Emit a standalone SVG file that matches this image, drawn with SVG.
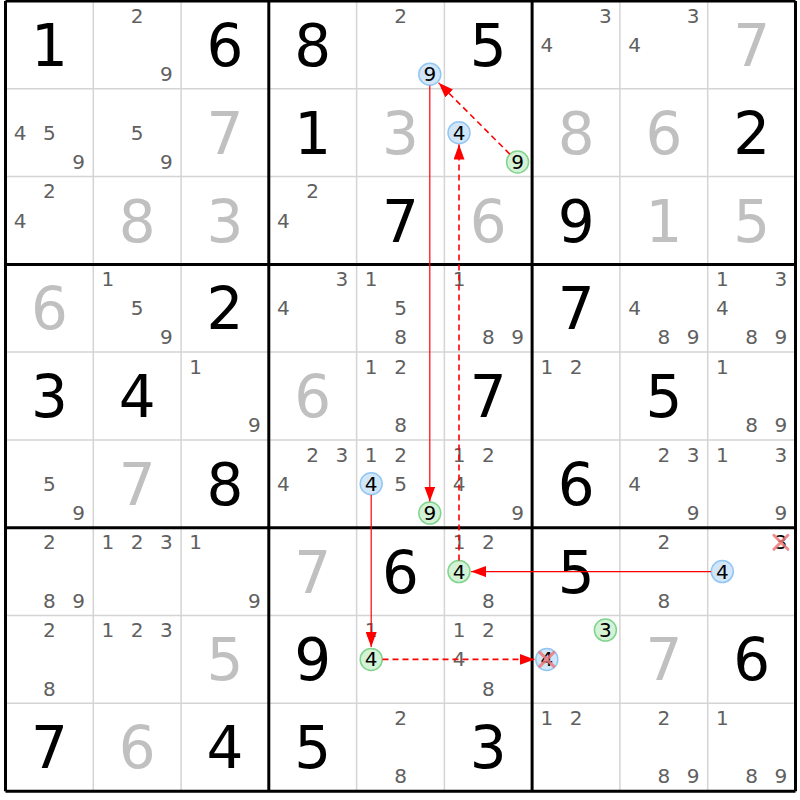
<svg xmlns="http://www.w3.org/2000/svg" width="800" height="800" viewBox="0 0 800 800">
<style>
text{font-family:"DejaVu Sans","Liberation Sans",sans-serif;text-anchor:middle}
.g{font-size:58px;fill:#000}
.s{font-size:58px;fill:#c0c0c0}
.c{font-size:20px;fill:#606060}
.k{font-size:20px;fill:#000}
.thin{stroke:#d4d4d4;stroke-width:1.5}
.thick{stroke:#000;stroke-width:3}
.bc{fill:#d2e6fa;stroke:#92c6f2;stroke-width:1.5}
.gc{fill:#d4f2d6;stroke:#80d48e;stroke-width:1.5}
.sol{stroke:#ff0000;stroke-width:1.2;fill:none}
.dsh{stroke:#ff0000;stroke-width:1.6;stroke-dasharray:6,4;fill:none}
.x{stroke:#f07878;stroke-width:3;stroke-linecap:round;opacity:0.85}
</style>
<defs>
<marker id="ah" markerUnits="userSpaceOnUse" markerWidth="15" markerHeight="11" refX="15" refY="5.5" orient="auto"><path d="M0,0 L15,5.5 L0,11 z" fill="#ff0000"/></marker>
</defs>
<rect width="800" height="800" fill="#fff"/>
<g id="grid">
<path class="thin" d="M93.3,1V791.2M181.1,1V791.2M356.6,1V791.2M444.4,1V791.2M619.9,1V791.2M707.7,1V791.2M5.5,88.8H795.5M5.5,176.6H795.5M5.5,352.1H795.5M5.5,439.9H795.5M5.5,615.5H795.5M5.5,703.3H795.5"/>
<path class="thick" d="M5.5,1V791.2M268.8,1V791.2M532.1,1V791.2M795.5,1V791.2M5.5,1H795.5M5.5,264.4H795.5M5.5,527.7H795.5M5.5,791.2H795.5"/>
</g>
<g id="cells">
<g id="r1c1" transform="translate(49.4,44.9)"><text class="g" y="21">1</text></g>
<g id="r1c2" transform="translate(137.2,44.9)"><text class="c" x="0" y="-22.3">2</text><text class="c" x="29.3" y="36.3">9</text></g>
<g id="r1c3" transform="translate(225,44.9)"><text class="g" y="21">6</text></g>
<g id="r1c4" transform="translate(312.7,44.9)"><text class="g" y="21">8</text></g>
<g id="r1c5" transform="translate(400.5,44.9)"><text class="c" x="0" y="-22.3">2</text><circle class="bc" cx="29.3" cy="29.3" r="11"/><text class="k" x="29.3" y="36.3">9</text></g>
<g id="r1c6" transform="translate(488.3,44.9)"><text class="g" y="21">5</text></g>
<g id="r1c7" transform="translate(576.1,44.9)"><text class="c" x="29.3" y="-22.3">3</text><text class="c" x="-29.3" y="7">4</text></g>
<g id="r1c8" transform="translate(663.9,44.9)"><text class="c" x="29.3" y="-22.3">3</text><text class="c" x="-29.3" y="7">4</text></g>
<g id="r1c9" transform="translate(751.6,44.9)"><text class="s" y="21">7</text></g>

<g id="r2c1" transform="translate(49.4,132.7)"><text class="c" x="-29.3" y="7">4</text><text class="c" x="0" y="7">5</text><text class="c" x="29.3" y="36.3">9</text></g>
<g id="r2c2" transform="translate(137.2,132.7)"><text class="c" x="0" y="7">5</text><text class="c" x="29.3" y="36.3">9</text></g>
<g id="r2c3" transform="translate(225,132.7)"><text class="s" y="21">7</text></g>
<g id="r2c4" transform="translate(312.7,132.7)"><text class="g" y="21">1</text></g>
<g id="r2c5" transform="translate(400.5,132.7)"><text class="s" y="21">3</text></g>
<g id="r2c6" transform="translate(488.3,132.7)"><circle class="bc" cx="-29.3" cy="0" r="11"/><text class="k" x="-29.3" y="7">4</text><circle class="gc" cx="29.3" cy="29.3" r="11"/><text class="k" x="29.3" y="36.3">9</text></g>
<g id="r2c7" transform="translate(576.1,132.7)"><text class="s" y="21">8</text></g>
<g id="r2c8" transform="translate(663.9,132.7)"><text class="s" y="21">6</text></g>
<g id="r2c9" transform="translate(751.6,132.7)"><text class="g" y="21">2</text></g>

<g id="r3c1" transform="translate(49.4,220.5)"><text class="c" x="0" y="-22.3">2</text><text class="c" x="-29.3" y="7">4</text></g>
<g id="r3c2" transform="translate(137.2,220.5)"><text class="s" y="21">8</text></g>
<g id="r3c3" transform="translate(225,220.5)"><text class="s" y="21">3</text></g>
<g id="r3c4" transform="translate(312.7,220.5)"><text class="c" x="0" y="-22.3">2</text><text class="c" x="-29.3" y="7">4</text></g>
<g id="r3c5" transform="translate(400.5,220.5)"><text class="g" y="21">7</text></g>
<g id="r3c6" transform="translate(488.3,220.5)"><text class="s" y="21">6</text></g>
<g id="r3c7" transform="translate(576.1,220.5)"><text class="g" y="21">9</text></g>
<g id="r3c8" transform="translate(663.9,220.5)"><text class="s" y="21">1</text></g>
<g id="r3c9" transform="translate(751.6,220.5)"><text class="s" y="21">5</text></g>

<g id="r4c1" transform="translate(49.4,308.2)"><text class="s" y="21">6</text></g>
<g id="r4c2" transform="translate(137.2,308.2)"><text class="c" x="-29.3" y="-22.3">1</text><text class="c" x="0" y="7">5</text><text class="c" x="29.3" y="36.3">9</text></g>
<g id="r4c3" transform="translate(225,308.2)"><text class="g" y="21">2</text></g>
<g id="r4c4" transform="translate(312.7,308.2)"><text class="c" x="29.3" y="-22.3">3</text><text class="c" x="-29.3" y="7">4</text></g>
<g id="r4c5" transform="translate(400.5,308.2)"><text class="c" x="-29.3" y="-22.3">1</text><text class="c" x="0" y="7">5</text><text class="c" x="0" y="36.3">8</text></g>
<g id="r4c6" transform="translate(488.3,308.2)"><text class="c" x="-29.3" y="-22.3">1</text><text class="c" x="0" y="36.3">8</text><text class="c" x="29.3" y="36.3">9</text></g>
<g id="r4c7" transform="translate(576.1,308.2)"><text class="g" y="21">7</text></g>
<g id="r4c8" transform="translate(663.9,308.2)"><text class="c" x="-29.3" y="7">4</text><text class="c" x="0" y="36.3">8</text><text class="c" x="29.3" y="36.3">9</text></g>
<g id="r4c9" transform="translate(751.6,308.2)"><text class="c" x="-29.3" y="-22.3">1</text><text class="c" x="29.3" y="-22.3">3</text><text class="c" x="-29.3" y="7">4</text><text class="c" x="0" y="36.3">8</text><text class="c" x="29.3" y="36.3">9</text></g>

<g id="r5c1" transform="translate(49.4,396)"><text class="g" y="21">3</text></g>
<g id="r5c2" transform="translate(137.2,396)"><text class="g" y="21">4</text></g>
<g id="r5c3" transform="translate(225,396)"><text class="c" x="-29.3" y="-22.3">1</text><text class="c" x="29.3" y="36.3">9</text></g>
<g id="r5c4" transform="translate(312.7,396)"><text class="s" y="21">6</text></g>
<g id="r5c5" transform="translate(400.5,396)"><text class="c" x="-29.3" y="-22.3">1</text><text class="c" x="0" y="-22.3">2</text><text class="c" x="0" y="36.3">8</text></g>
<g id="r5c6" transform="translate(488.3,396)"><text class="g" y="21">7</text></g>
<g id="r5c7" transform="translate(576.1,396)"><text class="c" x="-29.3" y="-22.3">1</text><text class="c" x="0" y="-22.3">2</text></g>
<g id="r5c8" transform="translate(663.9,396)"><text class="g" y="21">5</text></g>
<g id="r5c9" transform="translate(751.6,396)"><text class="c" x="-29.3" y="-22.3">1</text><text class="c" x="0" y="36.3">8</text><text class="c" x="29.3" y="36.3">9</text></g>

<g id="r6c1" transform="translate(49.4,483.8)"><text class="c" x="0" y="7">5</text><text class="c" x="29.3" y="36.3">9</text></g>
<g id="r6c2" transform="translate(137.2,483.8)"><text class="s" y="21">7</text></g>
<g id="r6c3" transform="translate(225,483.8)"><text class="g" y="21">8</text></g>
<g id="r6c4" transform="translate(312.7,483.8)"><text class="c" x="0" y="-22.3">2</text><text class="c" x="29.3" y="-22.3">3</text><text class="c" x="-29.3" y="7">4</text></g>
<g id="r6c5" transform="translate(400.5,483.8)"><text class="c" x="-29.3" y="-22.3">1</text><text class="c" x="0" y="-22.3">2</text><circle class="bc" cx="-29.3" cy="0" r="11"/><text class="k" x="-29.3" y="7">4</text><text class="c" x="0" y="7">5</text><circle class="gc" cx="29.3" cy="29.3" r="11"/><text class="k" x="29.3" y="36.3">9</text></g>
<g id="r6c6" transform="translate(488.3,483.8)"><text class="c" x="-29.3" y="-22.3">1</text><text class="c" x="0" y="-22.3">2</text><text class="c" x="-29.3" y="7">4</text><text class="c" x="29.3" y="36.3">9</text></g>
<g id="r6c7" transform="translate(576.1,483.8)"><text class="g" y="21">6</text></g>
<g id="r6c8" transform="translate(663.9,483.8)"><text class="c" x="0" y="-22.3">2</text><text class="c" x="29.3" y="-22.3">3</text><text class="c" x="-29.3" y="7">4</text><text class="c" x="29.3" y="36.3">9</text></g>
<g id="r6c9" transform="translate(751.6,483.8)"><text class="c" x="-29.3" y="-22.3">1</text><text class="c" x="29.3" y="-22.3">3</text><text class="c" x="29.3" y="36.3">9</text></g>

<g id="r7c1" transform="translate(49.4,571.6)"><text class="c" x="0" y="-22.3">2</text><text class="c" x="0" y="36.3">8</text><text class="c" x="29.3" y="36.3">9</text></g>
<g id="r7c2" transform="translate(137.2,571.6)"><text class="c" x="-29.3" y="-22.3">1</text><text class="c" x="0" y="-22.3">2</text><text class="c" x="29.3" y="-22.3">3</text></g>
<g id="r7c3" transform="translate(225,571.6)"><text class="c" x="-29.3" y="-22.3">1</text><text class="c" x="29.3" y="36.3">9</text></g>
<g id="r7c4" transform="translate(312.7,571.6)"><text class="s" y="21">7</text></g>
<g id="r7c5" transform="translate(400.5,571.6)"><text class="g" y="21">6</text></g>
<g id="r7c6" transform="translate(488.3,571.6)"><text class="c" x="-29.3" y="-22.3">1</text><text class="c" x="0" y="-22.3">2</text><circle class="gc" cx="-29.3" cy="0" r="11"/><text class="k" x="-29.3" y="7">4</text><text class="c" x="0" y="36.3">8</text></g>
<g id="r7c7" transform="translate(576.1,571.6)"><text class="g" y="21">5</text></g>
<g id="r7c8" transform="translate(663.9,571.6)"><text class="c" x="0" y="-22.3">2</text><text class="c" x="0" y="36.3">8</text></g>
<g id="r7c9" transform="translate(751.6,571.6)"><text class="k" x="29.3" y="-22.3">3</text><path class="x" d="M22.3,-36.3L36.3,-22.3M36.3,-36.3L22.3,-22.3"/><circle class="bc" cx="-29.3" cy="0" r="11"/><text class="k" x="-29.3" y="7">4</text></g>

<g id="r8c1" transform="translate(49.4,659.4)"><text class="c" x="0" y="-22.3">2</text><text class="c" x="0" y="36.3">8</text></g>
<g id="r8c2" transform="translate(137.2,659.4)"><text class="c" x="-29.3" y="-22.3">1</text><text class="c" x="0" y="-22.3">2</text><text class="c" x="29.3" y="-22.3">3</text></g>
<g id="r8c3" transform="translate(225,659.4)"><text class="s" y="21">5</text></g>
<g id="r8c4" transform="translate(312.7,659.4)"><text class="g" y="21">9</text></g>
<g id="r8c5" transform="translate(400.5,659.4)"><text class="c" x="-29.3" y="-22.3">1</text><circle class="gc" cx="-29.3" cy="0" r="11"/><text class="k" x="-29.3" y="7">4</text></g>
<g id="r8c6" transform="translate(488.3,659.4)"><text class="c" x="-29.3" y="-22.3">1</text><text class="c" x="0" y="-22.3">2</text><text class="c" x="-29.3" y="7">4</text><text class="c" x="0" y="36.3">8</text></g>
<g id="r8c7" transform="translate(576.1,659.4)"><circle class="gc" cx="29.3" cy="-29.3" r="11"/><text class="k" x="29.3" y="-22.3">3</text><circle class="bc" cx="-29.3" cy="0" r="11"/><text class="k" x="-29.3" y="7">4</text><path class="x" d="M-36.3,-7L-22.3,7M-22.3,-7L-36.3,7"/></g>
<g id="r8c8" transform="translate(663.9,659.4)"><text class="s" y="21">7</text></g>
<g id="r8c9" transform="translate(751.6,659.4)"><text class="g" y="21">6</text></g>

<g id="r9c1" transform="translate(49.4,747.1)"><text class="g" y="21">7</text></g>
<g id="r9c2" transform="translate(137.2,747.1)"><text class="s" y="21">6</text></g>
<g id="r9c3" transform="translate(225,747.1)"><text class="g" y="21">4</text></g>
<g id="r9c4" transform="translate(312.7,747.1)"><text class="g" y="21">5</text></g>
<g id="r9c5" transform="translate(400.5,747.1)"><text class="c" x="0" y="-22.3">2</text><text class="c" x="0" y="36.3">8</text></g>
<g id="r9c6" transform="translate(488.3,747.1)"><text class="g" y="21">3</text></g>
<g id="r9c7" transform="translate(576.1,747.1)"><text class="c" x="-29.3" y="-22.3">1</text><text class="c" x="0" y="-22.3">2</text></g>
<g id="r9c8" transform="translate(663.9,747.1)"><text class="c" x="0" y="-22.3">2</text><text class="c" x="0" y="36.3">8</text><text class="c" x="29.3" y="36.3">9</text></g>
<g id="r9c9" transform="translate(751.6,747.1)"><text class="c" x="-29.3" y="-22.3">1</text><text class="c" x="0" y="36.3">8</text><text class="c" x="29.3" y="36.3">9</text></g>
</g>
<g id="connectors">
<path class="sol" d="M429.8,85.5V501.5" marker-end="url(#ah)"/>
<path class="dsh" d="M459,560.5V144.5" marker-end="url(#ah)"/>
<path class="dsh" d="M509.8,154.1L438.6,82.8" marker-end="url(#ah)"/>
<path class="sol" d="M371.2,495V647" marker-end="url(#ah)"/>
<path class="dsh" d="M382.5,659.4H534.5" marker-end="url(#ah)"/>
<path class="sol" d="M711,571.6H471" marker-end="url(#ah)"/>
</g>
</svg>
